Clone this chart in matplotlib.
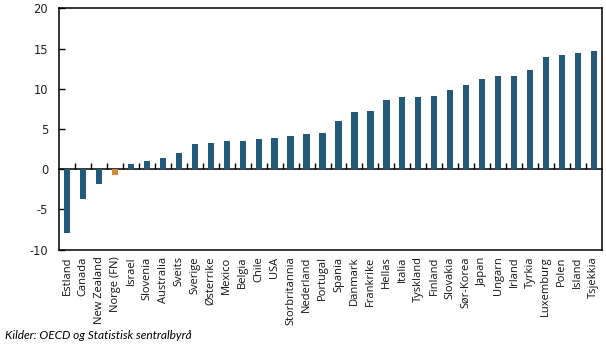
import matplotlib
matplotlib.use("Agg")
import matplotlib.pyplot as plt
import numpy as np

plt.rcParams["axes.unicode_minus"] = False

countries = ["Estland", "Canada", "New Zealand", "Norge (FN)", "Israel", "Slovenia",
             "Australia", "Sveits", "Sverige", "Østerrike", "Mexico", "Belgia", "Chile",
             "USA", "Storbritannia", "Nederland", "Portugal", "Spania", "Danmark",
             "Frankrike", "Hellas", "Italia", "Tyskland", "Finland", "Slovakia",
             "Sør-Korea", "Japan", "Ungarn", "Irland", "Tyrkia", "Luxemburg", "Polen",
             "Island", "Tsjekkia"]
values = [-8.0, -3.7, -1.9, -0.7, 0.7, 1.0, 1.4, 2.0, 3.1, 3.3, 3.5, 3.5, 3.75,
          3.9, 4.1, 4.4, 4.5, 6.0, 7.1, 7.2, 8.6, 9.0, 9.0, 9.1, 9.9, 10.5, 11.2,
          11.6, 11.6, 12.3, 13.9, 14.2, 14.5, 14.7]
highlight = "Norge (FN)"

blue = "#235a7a"
orange = "#d08a3c"

fig = plt.figure(figsize=(6.06, 3.48), dpi=100)
ax = fig.add_axes([0.0979, 0.283, 0.895, 0.6926])

x = np.arange(len(countries))
colors = [orange if c == highlight else blue for c in countries]
ax.bar(x, values, width=0.4, color=colors, zorder=2)

ax.set_xlim(-0.5, len(countries) - 0.5)
ax.set_ylim(-10, 20)
ax.set_yticks([-10, -5, 0, 5, 10, 15, 20])
ax.tick_params(axis="y", direction="in", length=4, width=1, labelsize=8.3,
               labelcolor="#222222", pad=8)
for lab in ax.get_yticklabels():
    lab.set_fontfamily("DejaVu Sans")

ax.set_xticks(x)
ax.set_xticklabels(countries, rotation=90, fontsize=8, fontfamily="Open Sans",
                   color="#111111")
ax.tick_params(axis="x", length=0, pad=5)

for s in ax.spines.values():
    s.set_linewidth(1.1)
    s.set_color("black")

# zero line with category boundary ticks
sec = ax.secondary_xaxis(1/3)
sec.set_xticks(x[:-1] + 0.5)
sec.tick_params(direction="in", length=4, width=1, labelbottom=False, labeltop=False)
sec.spines["bottom"].set_linewidth(1.1)

fig.text(0.008, 0.025, "Kilder: OECD og Statistisk sentralbyrå", fontsize=8.6,
         style="italic", fontfamily="Lato", ha="left", va="baseline", color="black")

fig.savefig("out.png", dpi=100)
